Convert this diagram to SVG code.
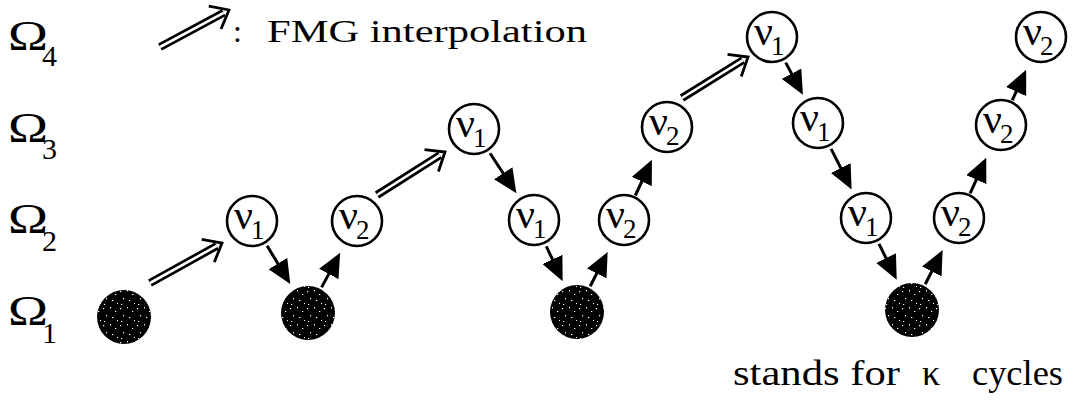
<svg xmlns="http://www.w3.org/2000/svg" width="1072" height="400" viewBox="0 0 1072 400">
<style>
text{font-family:"Liberation Serif","Times New Roman",serif;fill:#000}
.om{font-size:42px}
.os{font-size:30px}
.nu{font-size:42px}
.ns{font-size:27px}
.lbl{font-size:32px}
.bt{font-size:36px}
.open{fill:#fff;stroke:#000;stroke-width:2.6}
.coarse{fill:url(#speck)}
.sm{fill:none;stroke:#000;stroke-width:3;marker-end:url(#tri)}
.do{fill:none;stroke:#000;stroke-width:8}
.di{fill:none;stroke:#fff;stroke-width:2.6}
.dh{fill:none;stroke:none;marker-end:url(#chev)}
</style>
<defs>
<marker id="tri" viewBox="-14 -11 24 22" refX="0" refY="0" markerWidth="24" markerHeight="22" markerUnits="userSpaceOnUse" orient="auto">
<path d="M-14,-11 L10,0 L-14,11 Z" fill="#000"/>
</marker>
<marker id="chev" viewBox="-20 -16 24 32" refX="0" refY="0" markerWidth="24" markerHeight="32" markerUnits="userSpaceOnUse" orient="auto">
<path d="M-16,-13 L0,0 L-16,13" fill="none" stroke="#000" stroke-width="2.8"/>
</marker>
<pattern id="speck" width="17" height="17" patternUnits="userSpaceOnUse">
<rect width="17" height="17" fill="#000"/>
<g fill="#fff">
<rect x="1" y="2" width="1.2" height="1.2"/>
<rect x="8" y="1" width="1" height="1.4"/>
<rect x="13" y="5" width="1.3" height="1"/>
<rect x="4" y="9" width="1.1" height="1.3"/>
<rect x="10" y="11" width="1.3" height="1.1"/>
<rect x="15" y="14" width="1" height="1"/>
<rect x="2" y="15" width="1.2" height="1"/>
</g>
</pattern>
</defs>

<g id="levels">
<text class="om" x="8" y="50" textLength="40" lengthAdjust="spacingAndGlyphs">Ω</text><text class="os" x="42" y="66">4</text>
<text class="om" x="8" y="142" textLength="40" lengthAdjust="spacingAndGlyphs">Ω</text><text class="os" x="42" y="159">3</text>
<text class="om" x="8" y="233" textLength="40" lengthAdjust="spacingAndGlyphs">Ω</text><text class="os" x="42" y="251">2</text>
<text class="om" x="8" y="325" textLength="40" lengthAdjust="spacingAndGlyphs">Ω</text><text class="os" x="42" y="343">1</text>
</g>

<g id="legend">
<line class="do" x1="160" y1="47" x2="223.7" y2="12.8"/>
<line class="di" x1="160" y1="47" x2="223.7" y2="12.8"/>
<line class="dh" x1="160" y1="47" x2="229" y2="10"/>
<text class="lbl" x="233" y="42">:</text>
<text class="lbl" x="267" y="42" textLength="320" lengthAdjust="spacingAndGlyphs">FMG interpolation</text>
</g>

<g id="connectors">
<g id="interpolation">
<line class="do" x1="150" y1="283" x2="216.8" y2="245.9"/>
<line class="di" x1="150" y1="283" x2="216.8" y2="245.9"/>
<line class="dh" x1="150" y1="283" x2="222" y2="243"/>
<line class="do" x1="377" y1="195" x2="439.9" y2="155.2"/>
<line class="di" x1="377" y1="195" x2="439.9" y2="155.2"/>
<line class="dh" x1="377" y1="195" x2="445" y2="152"/>
<line class="do" x1="682" y1="98" x2="742.9" y2="60.2"/>
<line class="di" x1="682" y1="98" x2="742.9" y2="60.2"/>
<line class="dh" x1="682" y1="98" x2="748" y2="57"/>
</g>
<g id="smoothing">
<line class="sm" x1="267.1" y1="245.8" x2="285.1" y2="275.5"/>
<line class="sm" x1="321.6" y1="287.4" x2="335.4" y2="261.6"/>
<line class="sm" x1="490" y1="153.2" x2="510.9" y2="185"/>
<line class="sm" x1="546.3" y1="246.3" x2="558.4" y2="272.1"/>
<line class="sm" x1="590.2" y1="286.2" x2="603.1" y2="261"/>
<line class="sm" x1="635.3" y1="195.5" x2="647.7" y2="168.8"/>
<line class="sm" x1="785.7" y1="62.6" x2="798.2" y2="86"/>
<line class="sm" x1="831.1" y1="148.9" x2="847.1" y2="180.5"/>
<line class="sm" x1="879" y1="243.9" x2="892.3" y2="270.7"/>
<line class="sm" x1="925.2" y1="284.2" x2="938.1" y2="259"/>
<line class="sm" x1="970.1" y1="193.4" x2="982.1" y2="166.9"/>
<line class="sm" x1="1012.2" y1="100.4" x2="1022" y2="78.9"/>
</g>
</g>

<g id="c1"><circle class="coarse" cx="124" cy="317" r="27"/></g>
<g id="c2"><circle class="coarse" cx="308" cy="313" r="27"/></g>
<g id="c3"><circle class="coarse" cx="577" cy="312" r="27"/></g>
<g id="c4"><circle class="coarse" cx="912" cy="310" r="27"/></g>

<g id="n1"><circle class="open" cx="252" cy="221" r="25"/><text class="nu" x="234" y="229">ν</text><text class="ns" x="251" y="239">1</text></g>
<g id="n2"><circle class="open" cx="357" cy="221" r="25"/><text class="nu" x="339" y="229">ν</text><text class="ns" x="356" y="239">2</text></g>
<g id="n3"><circle class="open" cx="474" cy="129" r="25"/><text class="nu" x="456" y="137">ν</text><text class="ns" x="473" y="147">1</text></g>
<g id="n4"><circle class="open" cx="534" cy="220" r="25"/><text class="nu" x="516" y="228">ν</text><text class="ns" x="533" y="238">1</text></g>
<g id="n5"><circle class="open" cx="624" cy="220" r="25"/><text class="nu" x="606" y="228">ν</text><text class="ns" x="623" y="238">2</text></g>
<g id="n6"><circle class="open" cx="667" cy="127" r="25"/><text class="nu" x="649" y="135">ν</text><text class="ns" x="666" y="145">2</text></g>
<g id="n7"><circle class="open" cx="772" cy="37" r="25"/><text class="nu" x="754" y="45">ν</text><text class="ns" x="771" y="55">1</text></g>
<g id="n8"><circle class="open" cx="818" cy="123" r="25"/><text class="nu" x="800" y="131">ν</text><text class="ns" x="817" y="141">1</text></g>
<g id="n9"><circle class="open" cx="866" cy="218" r="25"/><text class="nu" x="848" y="226">ν</text><text class="ns" x="865" y="236">1</text></g>
<g id="n10"><circle class="open" cx="959" cy="218" r="25"/><text class="nu" x="941" y="226">ν</text><text class="ns" x="958" y="236">2</text></g>
<g id="n11"><circle class="open" cx="1001" cy="125" r="25"/><text class="nu" x="983" y="133">ν</text><text class="ns" x="1000" y="143">2</text></g>
<g id="n12"><circle class="open" cx="1041" cy="37" r="25"/><text class="nu" x="1023" y="45">ν</text><text class="ns" x="1040" y="55">2</text></g>

<g id="note">
<text class="bt" x="733" y="385" textLength="167" lengthAdjust="spacingAndGlyphs">stands for</text>
<text class="bt" x="922" y="385">κ</text>
<text class="bt" x="972" y="385" textLength="91" lengthAdjust="spacingAndGlyphs">cycles</text>
</g>
</svg>
